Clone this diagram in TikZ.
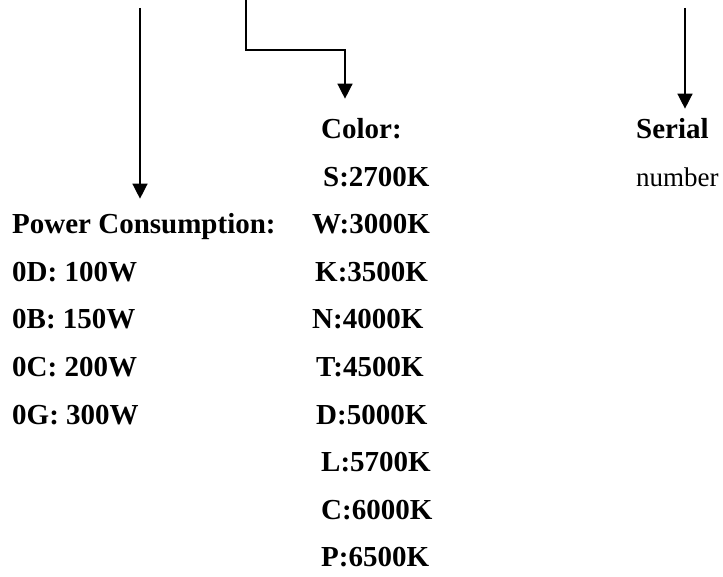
\documentclass[tikz,border=0pt]{standalone}
\usepackage{fontspec}
\setmainfont{Liberation Serif}
\usetikzlibrary{arrows.meta}
\begin{document}
\begin{tikzpicture}[x=1pt,y=-1pt,
  lbl/.style={anchor=base west,inner sep=0pt,font=\fontsize{29}{31}\selectfont\bfseries},
  plain/.style={anchor=base west,inner sep=0pt,font=\fontsize{27}{29}\selectfont},
  conn/.style={line width=1.4pt,-{Triangle[width=15pt,length=15pt]}}]
\useasboundingbox (0,0) rectangle (723,577);
% labels
\node[lbl] (color) at (321,139) {Color:};
\node[lbl] (s) at (323,186.5) {S:2700K};
\node[lbl] (w) at (312,234) {W:3000K};
\node[lbl] (k) at (315,281.5) {K:3500K};
\node[lbl] (n) at (312,329) {N:4000K};
\node[lbl] (t) at (316,376.5) {T:4500K};
\node[lbl] (d) at (316,424) {D:5000K};
\node[lbl] (l) at (321,471.5) {L:5700K};
\node[lbl] (c) at (321,519) {C:6000K};
\node[lbl] (p) at (321,566.5) {P:6500K};
\node[lbl] (power) at (12,234) {Power Consumption:};
\node[lbl] (od) at (12,281.5) {0D: 100W};
\node[lbl] (ob) at (12,329) {0B: 150W};
\node[lbl] (oc) at (12,376.5) {0C: 200W};
\node[lbl] (og) at (12,424) {0G: 300W};
\node[lbl] (serial) at (636,139) {Serial};
\node[plain] (number) at (636,186.5) {number};
% arrows
\coordinate (ptop) at (140,8);
\coordinate (ctop) at (246,0);
\coordinate (cbend) at (345,50);
\coordinate (stop) at (685,8);
\draw[conn,shorten >=15pt] (ptop) -- (ptop |- power.north);
\draw[conn,shorten >=20pt] (ctop) |- (cbend) -- (cbend |- color.north);
\draw[conn,shorten >=10pt] (stop) -- (stop |- serial.north);
\end{tikzpicture}
\end{document}
